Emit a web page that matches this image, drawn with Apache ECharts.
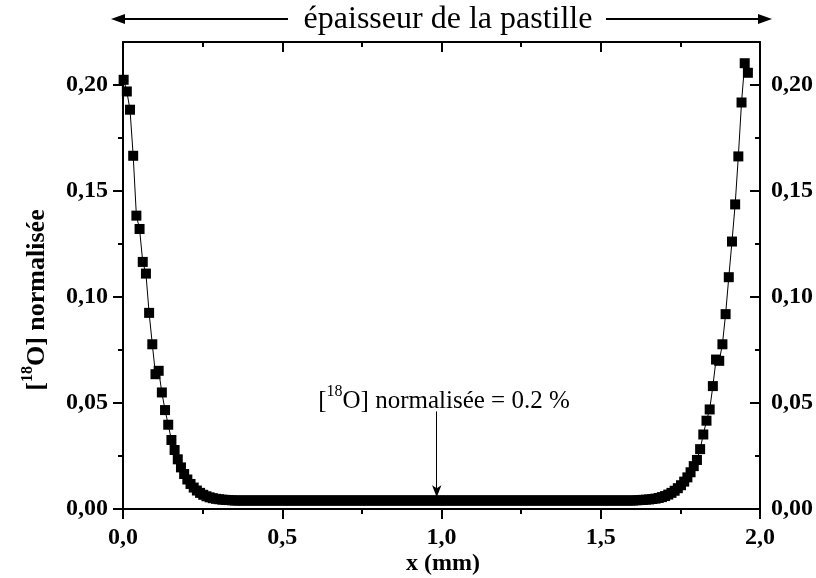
<!DOCTYPE html>
<html><head><meta charset="utf-8">
<script src="https://cdn.jsdelivr.net/npm/echarts@6/dist/echarts.min.js"></script>
<style>html,body{margin:0;padding:0;background:#fff}#c{width:816px;height:578px}</style>
</head><body><div id="c"></div>
<script>
// x positions (mm)
const xValues = [
0.002,0.012,0.022,0.032,0.042,0.052,0.062,0.072,0.082,0.092,
0.102,0.112,0.122,0.132,0.142,0.152,0.162,0.172,0.182,0.192,
0.202,0.212,0.222,0.232,0.242,0.252,0.262,0.272,0.282,0.292,
0.302,0.312,0.322,0.332,0.342,0.352,0.362,0.372,0.382,0.392,
0.402,0.412,0.422,0.432,0.442,0.452,0.462,0.472,0.482,0.492,
0.502,0.512,0.522,0.532,0.542,0.552,0.562,0.572,0.582,0.592,
0.602,0.612,0.622,0.632,0.642,0.652,0.662,0.672,0.682,0.692,
0.702,0.712,0.722,0.732,0.742,0.752,0.762,0.772,0.782,0.792,
0.802,0.812,0.822,0.832,0.842,0.852,0.862,0.872,0.882,0.892,
0.902,0.912,0.922,0.932,0.942,0.952,0.962,0.972,0.982,0.992,
1.002,1.012,1.022,1.032,1.042,1.052,1.062,1.072,1.082,1.092,
1.102,1.112,1.122,1.132,1.142,1.152,1.162,1.172,1.182,1.192,
1.202,1.212,1.222,1.232,1.242,1.252,1.262,1.272,1.282,1.292,
1.302,1.312,1.322,1.332,1.342,1.352,1.362,1.372,1.382,1.392,
1.402,1.412,1.422,1.432,1.442,1.452,1.462,1.472,1.482,1.492,
1.502,1.512,1.522,1.532,1.542,1.552,1.562,1.572,1.582,1.592,
1.602,1.612,1.622,1.632,1.642,1.652,1.662,1.672,1.682,1.692,
1.702,1.712,1.722,1.732,1.742,1.752,1.762,1.772,1.782,1.792,
1.802,1.812,1.822,1.832,1.842,1.852,1.862,1.872,1.882,1.892,
1.902,1.912,1.922,1.932,1.942,1.952,1.962
];
// normalised [18O] concentration
const concentration = [
0.2022,0.1967,0.1881,0.1664,0.1382,0.1319,0.1164,0.1109,0.0924,0.0776,
0.0635,0.0651,0.0549,0.0466,0.0397,0.0325,0.0278,0.0234,0.0196,0.0165,
0.0139,0.0118,0.0101,0.0087,0.0076,0.0067,0.0060,0.0055,0.0051,0.0048,
0.0046,0.0044,0.0043,0.0042,0.0041,0.0040,0.0040,0.0040,0.0040,0.0040,
0.0040,0.0040,0.0040,0.0040,0.0040,0.0040,0.0040,0.0040,0.0040,0.0040,
0.0040,0.0040,0.0040,0.0040,0.0040,0.0040,0.0040,0.0040,0.0040,0.0040,
0.0040,0.0040,0.0040,0.0040,0.0040,0.0040,0.0040,0.0040,0.0040,0.0040,
0.0040,0.0040,0.0040,0.0040,0.0040,0.0040,0.0040,0.0040,0.0040,0.0040,
0.0040,0.0040,0.0040,0.0040,0.0040,0.0040,0.0040,0.0040,0.0040,0.0040,
0.0040,0.0040,0.0040,0.0040,0.0040,0.0040,0.0040,0.0040,0.0040,0.0040,
0.0040,0.0040,0.0040,0.0040,0.0040,0.0040,0.0040,0.0040,0.0040,0.0040,
0.0040,0.0040,0.0040,0.0040,0.0040,0.0040,0.0040,0.0040,0.0040,0.0040,
0.0040,0.0040,0.0040,0.0040,0.0040,0.0040,0.0040,0.0040,0.0040,0.0040,
0.0040,0.0040,0.0040,0.0040,0.0040,0.0040,0.0040,0.0040,0.0040,0.0040,
0.0040,0.0040,0.0040,0.0040,0.0040,0.0040,0.0040,0.0040,0.0040,0.0040,
0.0040,0.0040,0.0040,0.0040,0.0040,0.0040,0.0040,0.0040,0.0040,0.0040,
0.0040,0.0041,0.0042,0.0043,0.0044,0.0045,0.0047,0.0049,0.0052,0.0056,
0.0061,0.0068,0.0076,0.0086,0.0098,0.0112,0.0129,0.0149,0.0173,0.0202,
0.0231,0.0282,0.0351,0.0416,0.0469,0.0579,0.0704,0.0698,0.0776,0.0918,
0.1092,0.1260,0.1435,0.1661,0.1915,0.2100,0.2055
];
const xMajorTicks = [0, 0.5, 1.0, 1.5, 2.0];
const xMajorLabels = ['0,0', '0,5', '1,0', '1,5', '2,0'];
const xMinorTicks = [0.25, 0.75, 1.25, 1.75];
const yMajorTicks = [0, 0.05, 0.10, 0.15, 0.20];
const yMajorLabels = ['0,00', '0,05', '0,10', '0,15', '0,20'];
const yMinorTicks = [0.025, 0.075, 0.125, 0.175];
const topTitle = 'épaisseur de la pastille';
const xTitle = 'x (mm)';
const annotationX = 0.985;
const annotationFrom = 0.046;
const annotationTo = 0.0055;

const FONT = '"Liberation Serif", "Times New Roman", serif';
const chart = echarts.init(document.getElementById('c'), null, {renderer: 'canvas'});

function lab(vals, labels) {
  return function (v) {
    for (let i = 0; i < vals.length; i++) if (Math.abs(vals[i] - v) < 1e-9) return labels[i];
    return '';
  };
}
const lineSt = {color: '#000', width: 2};
const labelSt = {fontFamily: FONT, fontWeight: 'bold', fontSize: 24, color: '#000'};

function xAx(pos, ticks, len, inside, showLine, labels) {
  return {
    type: 'value', position: pos, min: 0, max: 2,
    axisLine: {show: showLine, onZero: false, lineStyle: lineSt},
    axisTick: {show: true, inside: inside, length: len, customValues: ticks, lineStyle: lineSt},
    axisLabel: labels ? Object.assign({show: true, margin: 17, customValues: ticks, formatter: lab(xMajorTicks, xMajorLabels)}, labelSt) : {show: false},
    splitLine: {show: false}, minorTick: {show: false}
  };
}
function yAx(pos, ticks, len, inside, showLine, labels) {
  return {
    type: 'value', position: pos, min: 0, max: 0.22,
    axisLine: {show: showLine, onZero: false, lineStyle: lineSt},
    axisTick: {show: true, inside: inside, length: len, customValues: ticks, lineStyle: lineSt},
    axisLabel: labels ? Object.assign({show: true, margin: pos === 'left' ? 15 : 11, customValues: ticks, formatter: lab(yMajorTicks, yMajorLabels)}, labelSt) : {show: false},
    splitLine: {show: false}, minorTick: {show: false}
  };
}

chart.setOption({
  animation: false,
  backgroundColor: '#fff',
  grid: {left: 123, right: 54, top: 42, bottom: 69, containLabel: false},
  xAxis: [
    xAx('bottom', xMajorTicks, 10, false, true, true),
    xAx('bottom', xMinorTicks, 5, false, false, false),
    xAx('top', xMajorTicks, 10, true, true, false),
    xAx('top', xMinorTicks, 5, true, false, false)
  ],
  yAxis: [
    yAx('left', yMajorTicks, 10, false, true, true),
    yAx('left', yMinorTicks, 5, false, false, false),
    yAx('right', yMajorTicks, 10, true, true, true),
    yAx('right', yMinorTicks, 5, true, false, false)
  ],
  series: [{
    type: 'line',
    xAxisIndex: 0, yAxisIndex: 0,
    data: xValues.map((x, i) => [x, concentration[i]]),
    symbol: 'rect', symbolSize: 10, showAllSymbol: true, clip: false,
    itemStyle: {color: '#000'},
    lineStyle: {color: '#000', width: 1},
    markLine: {
      silent: true, symbol: ['none', 'arrow'], symbolSize: [7, 12],
      lineStyle: {color: '#000', width: 1, type: 'solid'},
      label: {show: false},
      data: [[{coord: [annotationX, annotationFrom]}, {coord: [annotationX, annotationTo]}]]
    }
  }],
  graphic: [
    {type: 'line', shape: {x1: 120, y1: 19, x2: 288, y2: 19}, style: {stroke: '#000', lineWidth: 2}},
    {type: 'polygon', shape: {points: [[111, 19], [125, 14], [125, 24]]}, style: {fill: '#000'}},
    {type: 'line', shape: {x1: 606, y1: 19, x2: 762, y2: 19}, style: {stroke: '#000', lineWidth: 2}},
    {type: 'polygon', shape: {points: [[772, 19], [758, 14], [758, 24]]}, style: {fill: '#000'}},
    {type: 'text', x: 448, y: 20, style: {text: topTitle, font: '32px ' + FONT, fill: '#000', align: 'center', verticalAlign: 'middle'}},
    {type: 'text', x: 443, y: 564, style: {text: xTitle, font: 'bold 24px ' + FONT, fill: '#000', align: 'center', verticalAlign: 'middle'}},
    {type: 'text', x: 35, y: 300, rotation: Math.PI / 2,
      style: {text: '{n|[}{s|18}{n|O] normalisée}', align: 'center', verticalAlign: 'middle', fill: '#000',
        rich: {n: {fontFamily: FONT, fontWeight: 'bold', fontSize: 26, lineHeight: 30, verticalAlign: 'bottom'},
               s: {fontFamily: FONT, fontWeight: 'bold', fontSize: 16, lineHeight: 30, verticalAlign: 'top'}}}},
    {type: 'text', x: 444, y: 399,
      style: {text: '{n|[}{s|18}{n|O] normalisée = 0.2 %}', align: 'center', verticalAlign: 'middle', fill: '#000',
        rich: {n: {fontFamily: FONT, fontSize: 25, lineHeight: 30, verticalAlign: 'bottom'},
               s: {fontFamily: FONT, fontSize: 16, lineHeight: 30, verticalAlign: 'top'}}}}
  ]
});
</script></body></html>
